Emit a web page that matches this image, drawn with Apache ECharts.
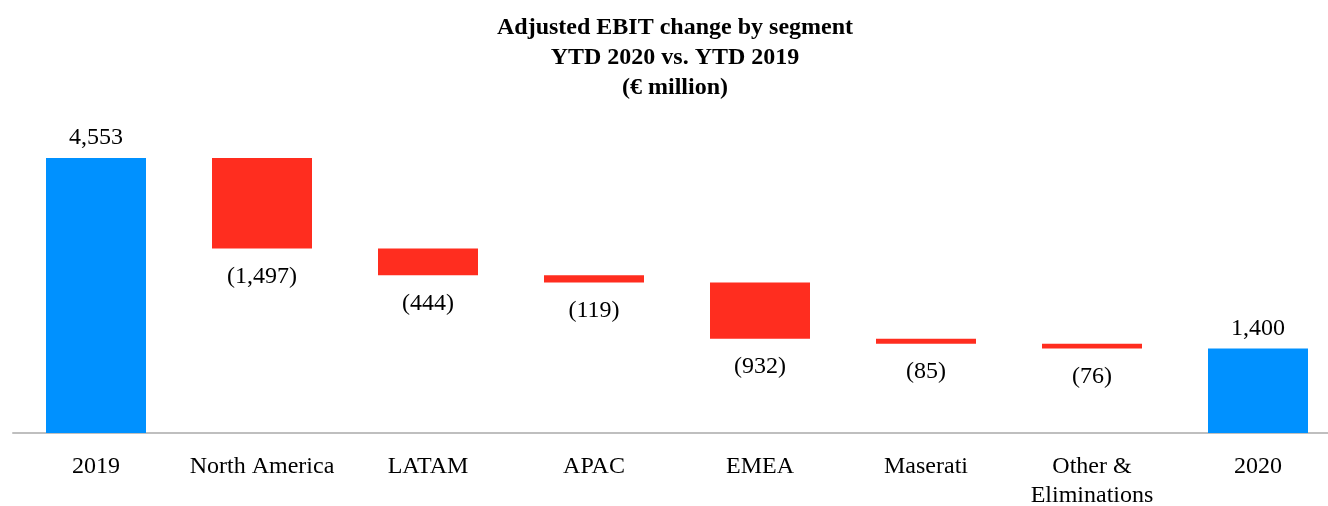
<!DOCTYPE html>
<html>
<head>
<meta charset="utf-8">
<script src="https://cdn.jsdelivr.net/npm/echarts@6/dist/echarts.min.js"></script>
<style>
  html, body { margin: 0; padding: 0; background: #fff; }
  #chart { width: 1328px; height: 506px; }
</style>
</head>
<body>
<div id="chart"></div>
<script>
// data
var categories = ["2019", "North America", "LATAM", "APAC", "EMEA", "Maserati", "Other &\nEliminations", "2020"];
var values = [4553, -1497, -444, -119, -932, -85, -76, 1400];
var isTotal = [true, false, false, false, false, false, false, true];

var font = "'Liberation Serif', 'Times New Roman', serif";

// build invisible base + visible bar for the waterfall
var base = [];
var bars = [];
var running = 0;
values.forEach(function (v, i) {
  if (isTotal[i]) {
    base.push(0);
    bars.push({ value: v, itemStyle: { color: "#0091FF" } });
    running = v;
  } else {
    running = running + v;
    base.push(v < 0 ? running : running - v);
    bars.push({
      value: Math.abs(v),
      raw: v,
      itemStyle: { color: "#FF2D1F" },
      label: { position: "bottom", distance: 16 }
    });
  }
});

function fmt(n) {
  return Math.abs(n).toString().replace(/\B(?=(\d{3})+(?!\d))/g, ",");
}

var chart = echarts.init(document.getElementById("chart"));
chart.setOption({
  animation: false,
  graphic: [
    {
      type: "text",
      x: 675,
      y: 13,
      style: {
        text: "Adjusted EBIT change by segment\nYTD 2020 vs. YTD 2019\n(€ million)",
        font: "bold 24px " + font,
        lineHeight: 30,
        fill: "#000",
        textAlign: "center"
      }
    }
  ],
  grid: { left: 13, width: 1328, top: 131, bottom: 73, outerBoundsMode: "none", containLabel: false },
  xAxis: {
    type: "category",
    data: categories,
    axisLine: { lineStyle: { color: "#bfbfbf", width: 2 } },
    axisTick: { show: false },
    axisLabel: {
      color: "#000",
      fontFamily: font,
      fontSize: 24,
      lineHeight: 29,
      margin: 19,
      interval: 0
    }
  },
  yAxis: {
    type: "value",
    min: 0,
    max: 5000,
    show: false,
    splitLine: { show: false }
  },
  series: [
    {
      type: "bar",
      stack: "wf",
      data: base,
      barWidth: 100,
      itemStyle: { color: "transparent" },
      silent: true
    },
    {
      type: "bar",
      stack: "wf",
      data: bars,
      barWidth: 100,
      label: {
        show: true,
        fontFamily: font,
        fontSize: 24,
        color: "#000",
        position: "top",
        distance: 8,
        formatter: function (p) {
          var raw = p.data.raw;
          if (raw === undefined) return fmt(p.value);
          return "(" + fmt(raw) + ")";
        }
      }
    }
  ]
});
</script>
</body>
</html>
